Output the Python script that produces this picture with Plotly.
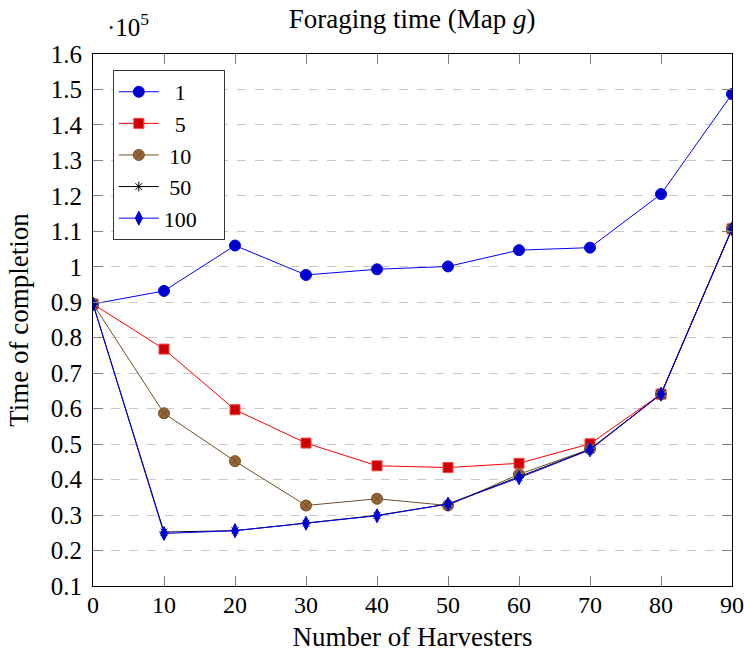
import plotly.graph_objects as go

harvesters = [0, 10, 20, 30, 40, 50, 60, 70, 80, 90]
series_names = ["1", "5", "10", "50", "100"]
s1 = [0.895, 0.932, 1.060, 0.977, 0.993, 1.001, 1.047, 1.054, 1.205, 1.487]
s5 = [0.895, 0.768, 0.597, 0.503, 0.439, 0.434, 0.446, 0.501, 0.641, 1.107]
s10 = [0.895, 0.587, 0.452, 0.327, 0.346, 0.327, 0.415, 0.486, 0.641, 1.107]
s50 = [0.895, 0.252, 0.256, 0.277, 0.299, 0.331, 0.407, 0.485, 0.641, 1.107]
s100 = [0.895, 0.248, 0.256, 0.277, 0.298, 0.331, 0.405, 0.484, 0.641, 1.107]
y_ticks = [0.1, 0.2, 0.3, 0.4, 0.5, 0.6, 0.7, 0.8, 0.9, 1.0, 1.1, 1.2, 1.3, 1.4, 1.5, 1.6]
y_tick_labels = ["0.1", "0.2", "0.3", "0.4", "0.5", "0.6", "0.7", "0.8", "0.9", "1",
                 "1.1", "1.2", "1.3", "1.4", "1.5", "1.6"]
x_ticks = [0, 10, 20, 30, 40, 50, 60, 70, 80, 90]

FONT = "Liberation Serif"
NB = "\u00a0"
# leading / trailing padding to centre the legend labels like the reference
legend_pad = {"1": 2, "5": 2, "10": 1, "50": 1, "100": 0}

styles = [
    dict(line=dict(color="#0000ff", width=1),
         marker=dict(symbol="circle", size=11, color="#0000cc", line=dict(color="#0000ff", width=1))),
    dict(line=dict(color="#ff0000", width=1),
         marker=dict(symbol="square", size=10, color="#cc0000", line=dict(color="#ff4040", width=1))),
    dict(line=dict(color="#734d26", width=1),
         marker=dict(symbol="circle-x", size=11, color="#996633", line=dict(color="#734d26", width=1))),
    dict(line=dict(color="#000000", width=1),
         marker=dict(symbol="asterisk-open", size=8, color="#000000", line=dict(color="#000000", width=1))),
    dict(line=dict(color="#0000ff", width=1),
         marker=dict(symbol="diamond-tall", size=10, color="#0000cc", line=dict(color="#0000ff", width=1))),
]

fig = go.Figure()
for i, (name, ys) in enumerate(zip(series_names, [s1, s5, s10, s50, s100])):
    label = NB * legend_pad[name] + name + NB * 4
    fig.add_trace(go.Scatter(x=harvesters, y=ys, name=label,
                             mode="lines+markers", legendgroup=name, **styles[i]))

fig.update_layout(
    width=744, height=658,
    margin=dict(l=93, r=12, t=54, b=72, autoexpand=False),
    paper_bgcolor="white", plot_bgcolor="white",
    font=dict(family=FONT, size=25, color="black"),
    title=dict(text="Foraging time (Map <i>g</i>)", x=0.554, xanchor="center",
               yref="container", y=0.972, yanchor="middle", font=dict(size=27)),
    showlegend=True,
    legend=dict(x=0.031, y=0.97, xanchor="left", yanchor="top",
                bordercolor="#333333", borderwidth=1, bgcolor="white",
                font=dict(size=22), tracegroupgap=0, itemwidth=40),
    xaxis=dict(range=[0, 90], tickvals=x_ticks, ticks="inside", ticklen=10,
               tickcolor="#808080", showline=True, linecolor="black", linewidth=1,
               mirror="ticks", showgrid=False, zeroline=False, automargin=True,
               title=dict(text="Number of Harvesters", standoff=10, font=dict(size=27)),
               tickfont=dict(size=24), ticklabelstandoff=-3, ticklabeloverflow="allow"),
    yaxis=dict(range=[0.1, 1.6], tickvals=y_ticks, ticktext=y_tick_labels,
               ticks="inside", ticklen=10, tickcolor="#808080", showline=True,
               linecolor="black", linewidth=1, mirror="ticks",
               showgrid=True, gridcolor="#c8c8c8", griddash="dash", gridwidth=1,
               zeroline=False, automargin=True,
               title=dict(text="Time of completion", standoff=14, font=dict(size=27)),
               tickfont=dict(size=25), ticklabelstandoff=5, ticklabeloverflow="allow"),
)
fig.add_annotation(text="·10<sup>5</sup>", xref="paper", yref="paper",
                   x=0.019, y=1.02, xanchor="left", yanchor="bottom",
                   showarrow=False, font=dict(size=25, family=FONT))

fig.write_html("out.html", config={"displayModeBar": False},
               post_script="document.body.style.margin='0';document.body.style.overflow='hidden';")
